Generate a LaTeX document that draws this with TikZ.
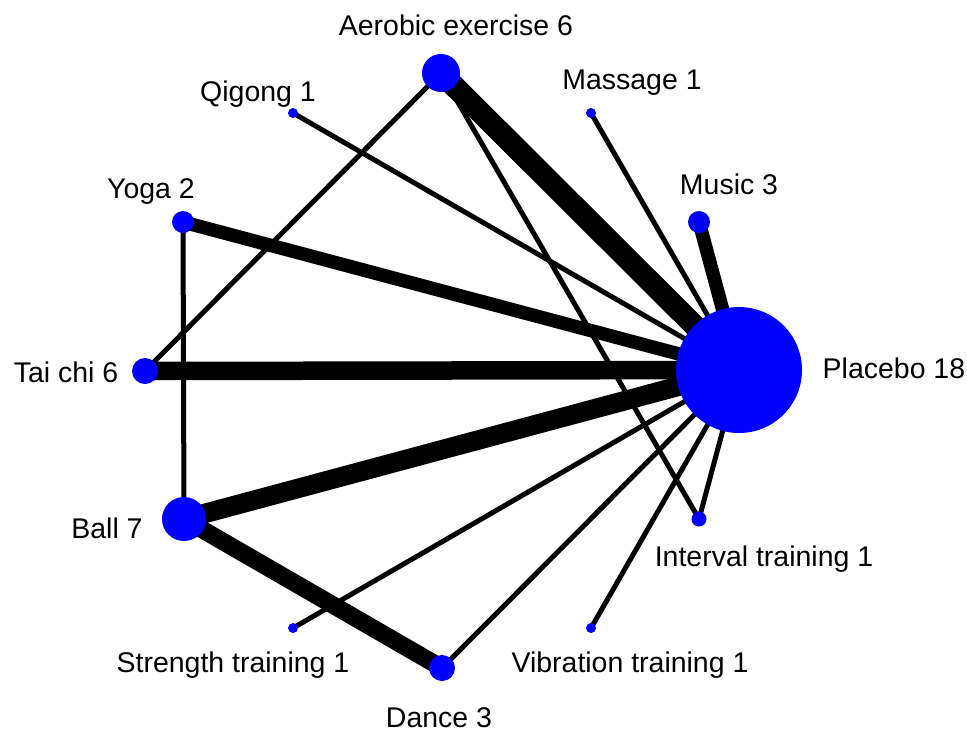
\documentclass[tikz,border=0pt]{standalone}
\usepackage{fontspec}
\setmainfont{Liberation Sans}
\usetikzlibrary{backgrounds}

\tikzset{
  trt/.style={circle,fill=blue,inner sep=0pt,minimum size=#1},
  lbl/.style={inner sep=0pt,text height=0.716em,text depth=0pt},
  lnk/.style={line width=#1},
  lnk/.default=0.5mm
}

\begin{document}
\begin{tikzpicture}[x=0.1mm,y=-0.1mm,font=\fontsize{8.1pt}{9.7pt}\selectfont]
\useasboundingbox (0,0) rectangle (967,732);
% treatments
\node[trt=12.6mm] (plac) at (739,370) {};
\node[trt=2.2mm] (mus) at (699,222) {};
\node[trt=1mm] (mas) at (591,113) {};
\node[trt=3.8mm] (aer) at (441,73) {};
\node[trt=1mm] (qig) at (293,113) {};
\node[trt=2.2mm] (yog) at (183,222) {};
\node[trt=2.6mm] (tai) at (145,371) {};
\node[trt=4.4mm] (ball) at (184,519) {};
\node[trt=1mm] (str) at (293,628) {};
\node[trt=2.6mm] (dan) at (442,668) {};
\node[trt=1mm] (vib) at (591,628) {};
\node[trt=1.5mm] (intv) at (699,519) {};
% labels
\node[lbl,anchor=west] (placl) at (822,366) {Placebo 18};
\node[lbl] (musl) at (729,182) {Music 3};
\node[lbl] (masl) at (632,77) {Massage 1};
\node[lbl] (aerl) at (456,23) {Aerobic exercise 6};
\node[lbl] (qigl) at (258,89) {Qigong 1};
\node[lbl] (yogl) at (151,186) {Yoga 2};
\node[lbl] (tail) at (66,370) {Tai chi 6};
\node[lbl] (balll) at (107,526) {Ball 7};
\node[lbl] (strl) at (233,660) {Strength training 1};
\node[lbl] (danl) at (439,715) {Dance 3};
\node[lbl] (vibl) at (630,660) {Vibration training 1};
\node[lbl] (intvl) at (764,554) {Interval training 1};
% comparisons
\begin{scope}[on background layer]
\draw[lnk=2.2mm] (aer.center) -- (plac.center);
\draw[lnk] (aer.center) -- (tai.center);
\draw[lnk] (aer.center) -- (intv.center);
\draw[lnk] (mas.center) -- (plac.center);
\draw[lnk] (qig.center) -- (plac.center);
\draw[lnk=1.35mm] (mus.center) -- (plac.center);
\draw[lnk=1.35mm] (yog.center) -- (plac.center);
\draw[lnk] (yog.center) -- (ball.center);
\draw[lnk=1.85mm] (tai.center) -- (plac.center);
\draw[lnk=1.95mm] (ball.center) -- (plac.center);
\draw[lnk=1.75mm] (ball.center) -- (dan.center);
\draw[lnk] (str.center) -- (plac.center);
\draw[lnk] (dan.center) -- (plac.center);
\draw[lnk] (vib.center) -- (plac.center);
\draw[lnk] (intv.center) -- (plac.center);
\end{scope}
\end{tikzpicture}
\end{document}
